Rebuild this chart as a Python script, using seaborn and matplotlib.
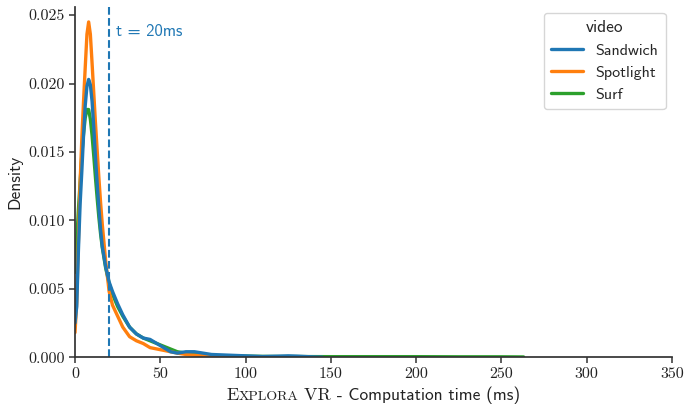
import matplotlib
matplotlib.use("Agg")
import matplotlib.pyplot as plt
import seaborn as sns
import pandas as pd
from matplotlib.offsetbox import TextArea, HPacker, AnchoredOffsetbox
from matplotlib.ticker import FuncFormatter

# ---- data (ms, density) ----
x_spotlight = [0, 1, 2, 3, 4, 5, 6, 7, 8, 9, 10, 11, 12, 13, 14, 15, 16, 18, 20, 22, 25, 28,
               32, 36, 40, 44, 48, 52, 56, 60, 65, 70, 80, 90, 100, 110]
y_spotlight = [0.0018, 0.0040, 0.0085, 0.0128, 0.0160, 0.0187, 0.0212, 0.0236, 0.0245, 0.0236,
               0.0215, 0.0193, 0.0171, 0.0151, 0.0131, 0.0113, 0.0097, 0.0070, 0.0048, 0.0038,
               0.0030, 0.0022, 0.0015, 0.0012, 0.0010, 0.0007, 0.0006, 0.0005, 0.0004, 0.0003,
               0.0002, 0.00015, 0.0001, 0.00005, 0.00002, 0.0]

x_sandwich = [0, 1, 2, 3, 4, 5, 6, 7, 8, 9, 10, 11, 12, 13, 14, 15, 16, 18, 20, 22, 25, 28,
              32, 36, 40, 44, 48, 52, 56, 60, 65, 70, 75, 80, 90, 100, 110, 120, 125, 130, 140, 145]
y_sandwich = [0.0025, 0.0037, 0.0078, 0.0112, 0.0136, 0.0162, 0.0184, 0.0198, 0.0203, 0.0199,
              0.0187, 0.0168, 0.0146, 0.0127, 0.0109, 0.0093, 0.0081, 0.0066, 0.0055, 0.0048,
              0.0039, 0.0031, 0.0022, 0.0017, 0.0014, 0.0013, 0.0010, 0.0007, 0.0004, 0.0003,
              0.0004, 0.0004, 0.0003, 0.0002, 0.00015, 0.0001, 0.00005, 0.00008, 0.0001,
              0.00008, 0.00002, 0.0]

x_surf = [0, 1, 2, 3, 4, 5, 6, 7, 8, 9, 10, 11, 12, 13, 14, 15, 16, 18, 20, 22, 25, 28,
          32, 36, 40, 44, 48, 52, 56, 60, 65, 70, 80, 90, 100, 110, 125, 150, 175, 200, 225,
          250, 263]
y_surf = [0.0062, 0.0085, 0.0108, 0.0128, 0.0148, 0.0163, 0.0175, 0.0181, 0.0181, 0.0174,
          0.0162, 0.0147, 0.0131, 0.0116, 0.0102, 0.0090, 0.0080, 0.0065, 0.0054, 0.0046,
          0.0037, 0.0030, 0.0022, 0.0017, 0.0014, 0.0012, 0.0010, 0.0008, 0.0006, 0.0004,
          0.0003, 0.0002, 0.00012, 0.0001, 0.00008, 0.00006, 0.00005, 0.00004, 0.00004,
          0.00004, 0.00003, 0.00003, 0.00002]

videos = ["Sandwich", "Spotlight", "Surf"]
threshold_ms = 20
x_ticks = [0, 50, 100, 150, 200, 250, 300, 350]
y_ticks = [0.000, 0.005, 0.010, 0.015, 0.020, 0.025]

series = {
    "Sandwich": (x_sandwich, y_sandwich),
    "Spotlight": (x_spotlight, y_spotlight),
    "Surf": (x_surf, y_surf),
}
df = pd.concat(
    [pd.DataFrame({"time": series[v][0], "density": series[v][1], "video": v}) for v in videos],
    ignore_index=True,
)

sns.set_theme(style="ticks")
palette = dict(zip(videos, sns.color_palette("tab10", 3)))

fig = plt.figure(figsize=(6.85, 4.05), dpi=100)
ax = fig.add_axes([0.1095, 0.118, 0.8715, 0.865])

handles = {}
for v in reversed(videos):
    sub = df[df["video"] == v]
    sns.lineplot(data=sub, x="time", y="density", color=palette[v], linewidth=2.4,
                 ax=ax, legend=False, sort=False)
    handles[v] = ax.lines[-1]

ax.axvline(threshold_ms, color=palette["Sandwich"], linestyle="--", linewidth=1.5)
ax.text(threshold_ms + 4, 0.0238, "t = 20ms", color=palette["Sandwich"],
        fontsize=12, family="cmss10", va="center", ha="left")

ax.set_xlim(0, 350)
ax.set_ylim(0, 0.0256)
ax.set_xticks(x_ticks)
ax.set_yticks(y_ticks)
ax.xaxis.set_major_formatter(FuncFormatter(lambda v, p: f"{v:.0f}"))
ax.yaxis.set_major_formatter(FuncFormatter(lambda v, p: f"{v:.3f}"))
for lab in ax.get_xticklabels() + ax.get_yticklabels():
    lab.set_family("cmr10")
    lab.set_fontsize(11.5)
ax.tick_params(axis="both", colors="#333333", labelcolor="#222222", length=4, width=1.1)
for s in ["left", "bottom"]:
    ax.spines[s].set_color("#333333")
    ax.spines[s].set_linewidth(1.25)
sns.despine(ax=ax)

ax.set_ylabel("Density", family="cmss10", fontsize=12.5, color="#222222")
ax.set_xlabel("")

# small-caps style x label
parts = [
    TextArea("E", textprops=dict(family="cmr10", size=13, color="#222222")),
    TextArea("XPLORA", textprops=dict(family="cmr10", size=10, color="#222222")),
    TextArea(" VR", textprops=dict(family="cmr10", size=13, color="#222222")),
    TextArea(" - Computation time (ms)", textprops=dict(family="cmss10", size=12.5, color="#222222")),
]
pack = HPacker(children=parts, align="baseline", pad=0, sep=0)
anch = AnchoredOffsetbox(loc="upper center", child=pack, pad=0, frameon=False,
                         bbox_to_anchor=(0.5, -0.085), bbox_transform=ax.transAxes,
                         borderpad=0)
ax.add_artist(anch)

leg = ax.legend([handles[v] for v in videos], videos, title="video", loc="upper right",
                bbox_to_anchor=(1.0, 1.0), borderaxespad=0.4, frameon=True, fancybox=True,
                prop={"family": "cmss10", "size": 11.5}, handlelength=2.0,
                borderpad=0.45, labelspacing=0.5)
leg.get_title().set_family("cmss10")
leg.get_title().set_fontsize(12.5)
leg.get_frame().set_edgecolor("#cccccc")
for l in leg.get_lines():
    l.set_linewidth(2.4)

fig.savefig("out.png", dpi=100)
